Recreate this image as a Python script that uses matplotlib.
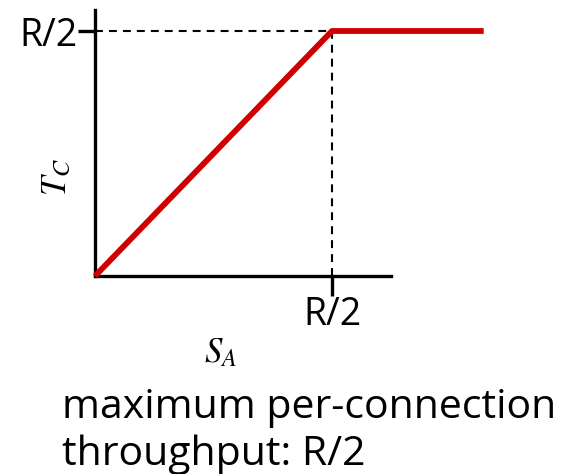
import matplotlib
matplotlib.use("Agg")
import matplotlib.pyplot as plt

plt.rcParams['font.family'] = ['Open Sans', 'DejaVu Sans']
plt.rcParams['mathtext.fontset'] = 'stix'

# data (R = 1)
R = 1.0
sa = [0.0, R / 2, 0.82]          # sending rate
tc = [0.0, R / 2, R / 2]          # throughput
tick_labels = ["R/2"]
x_axis_end = 0.624
y_axis_end = 0.543

W, H = 568, 474
fig = plt.figure(figsize=(W / 100, H / 100), dpi=100)
ox, oy = 95, 276
ax = fig.add_axes([ox / W, (H - oy) / H, (W - ox) / W, oy / H])
ax.set_xlim(0, (W - ox) / 474)
ax.set_ylim(0, oy / 490)
ax.patch.set_alpha(0)

for s in ['top', 'right']:
    ax.spines[s].set_visible(False)
for s in ['left', 'bottom']:
    ax.spines[s].set_linewidth(2.4)
    ax.spines[s].set_color('black')
ax.spines['left'].set_bounds(0, y_axis_end)
ax.spines['bottom'].set_bounds(0, x_axis_end)

ax.set_xticks([R / 2])
ax.set_xticklabels(tick_labels)
ax.set_yticks([R / 2])
ax.set_yticklabels(tick_labels)
ax.tick_params(axis='x', direction='out', length=14.5, width=2.4, labelsize=27, pad=0)
ax.tick_params(axis='y', direction='out', length=12.5, width=2.4, labelsize=27, pad=0)

# dashed guides
ax.plot([0, R / 2], [R / 2, R / 2], ls=(0, (3.8, 2.9)), color='black', lw=1.5, clip_on=False)
ax.plot([R / 2, R / 2], [0, R / 2], ls=(0, (3.8, 2.9)), color='black', lw=1.5, clip_on=False)

# throughput curve
ax.plot(sa, tc, color='#d00000', lw=4.2, solid_capstyle='butt', clip_on=False, zorder=5)

fig.text(57 / W, 1 - 177 / H, r'$T_C$', rotation=90, ha='center', va='center', fontsize=25)
fig.text(221 / W, 1 - 353 / H, r'$S_A$', ha='center', va='center', fontsize=25)

fig.text(62 / W, 1 - 418 / H, "maximum per-connection", ha='left', va='baseline', fontsize=29.5)
fig.text(62 / W, 1 - 465 / H, "throughput: R/2", ha='left', va='baseline', fontsize=29.5)

fig.savefig("out.png", dpi=100)
